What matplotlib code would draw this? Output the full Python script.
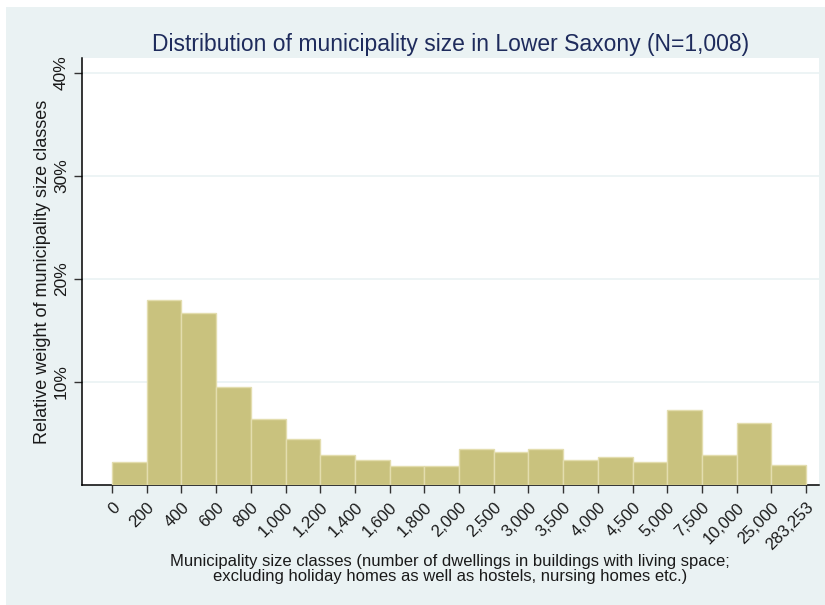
import numpy as np
import matplotlib
matplotlib.use("Agg")
import matplotlib.pyplot as plt
from matplotlib.patches import Rectangle

# size classes (bin edges) and share of municipalities in each class (%)
grenzen = ["0", "200", "400", "600", "800", "1,000", "1,200", "1,400", "1,600",
           "1,800", "2,000", "2,500", "3,000", "3,500", "4,000", "4,500",
           "5,000", "7,500", "10,000", "25,000", "283,253"]
anteile = [2.2, 17.9, 16.7, 9.5, 6.4, 4.4, 2.9, 2.35, 1.8, 1.8,
           3.4, 3.2, 3.4, 2.35, 2.65, 2.15, 7.2, 2.9, 5.95, 1.85]

plt.rcParams['font.family'] = ['Liberation Sans', 'DejaVu Sans']

W, H = 825, 605
fig = plt.figure(figsize=(W / 100, H / 100), dpi=100, facecolor='white')
# stata graph region (light blue), small white margin at top/left
fig.patches.append(Rectangle((6 / W, 0), 1 - 6 / W, 1 - 7 / H, transform=fig.transFigure,
                             facecolor='#EAF2F3', edgecolor='none', zorder=-10))

ax = fig.add_axes([81.5 / W, 1 - 484.5 / H, (819.3 - 81.5) / W, (484.5 - 58.3) / H])
ax.set_facecolor('white')

pos = np.arange(len(anteile))
ax.bar(pos, anteile, width=1.0, align='edge', color='#C9C27E',
       edgecolor='#E3DDAE', linewidth=1.0, zorder=3)

ax.set_xlim(-0.88, 20.38)
ax.set_ylim(0, 41.4)

ax.set_yticks([10, 20, 30, 40])
ax.set_yticklabels(['10%', '20%', '30%', '40%'], rotation=90, va='center',
                   fontsize=12.5, color='#1a1a1a')
ax.yaxis.grid(True, color='#EAF2F3', linewidth=1.2, zorder=0)

ax.set_xticks(np.arange(len(grenzen)))
ax.set_xticklabels(grenzen, rotation=45, ha='right', rotation_mode='anchor',
                   fontsize=12, color='#1a1a1a')
ax.tick_params(axis='both', length=6, width=1, color='#333333', pad=3)
ax.tick_params(axis='x', pad=5)

for s in ['top', 'right']:
    ax.spines[s].set_visible(False)
for s in ['left', 'bottom']:
    ax.spines[s].set_linewidth(1.1)
    ax.spines[s].set_color('black')

ax.set_ylabel('Relative weight of municipality size classes', fontsize=13, labelpad=2,
              color='#1a1a1a')
ax.set_title('Distribution of municipality size in Lower Saxony (N=1,008)',
             fontsize=16.5, color='#1E2B5C', pad=5.5)

fig.text(450 / W, 1 - 569 / H,
         'Municipality size classes (number of dwellings in buildings with living space;\n'
         'excluding holiday homes as well as hostels, nursing homes etc.)',
         ha='center', va='center', fontsize=12, linespacing=1.05, color='#1a1a1a')

fig.savefig('out.png', dpi=100, facecolor=fig.get_facecolor())
